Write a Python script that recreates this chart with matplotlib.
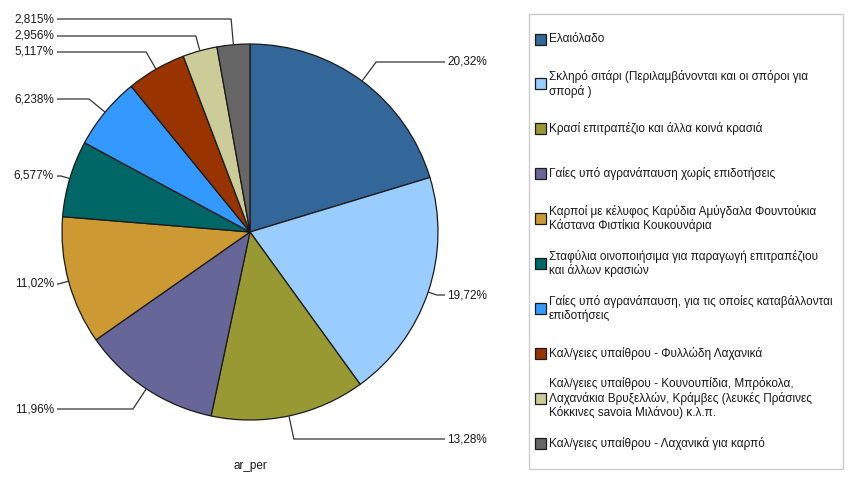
import matplotlib
matplotlib.use("Agg")
import matplotlib.pyplot as plt
from matplotlib.patches import Rectangle
import numpy as np

plt.rcParams['font.family'] = ['Liberation Sans', 'DejaVu Sans']

categories = [
    "Ελαιόλαδο",
    "Σκληρό σιτάρι (Περιλαμβάνονται και οι σπόροι για\nσπορά )",
    "Κρασί επιτραπέζιο και άλλα κοινά κρασιά",
    "Γαίες υπό αγρανάπαυση χωρίς επιδοτήσεις",
    "Καρποί με κέλυφος Καρύδια Αμύγδαλα Φουντούκια\nΚάστανα Φιστίκια Κουκουνάρια",
    "Σταφύλια οινοποιήσιμα για παραγωγή επιτραπέζιου\nκαι άλλων κρασιών",
    "Γαίες υπό αγρανάπαυση, για τις οποίες καταβάλλονται\nεπιδοτήσεις",
    "Καλ/γειες υπαίθρου - Φυλλώδη Λαχανικά",
    "Καλ/γειες υπαίθρου - Κουνουπίδια, Μπρόκολα,\nΛαχανάκια Βρυξελλών, Κράμβες (λευκές Πράσινες\nΚόκκινες savoia Μιλάνου) κ.λ.π.",
    "Καλ/γειες υπαίθρου - Λαχανικά για καρπό",
]
values = [20.32, 19.72, 13.28, 11.96, 11.02, 6.577, 6.238, 5.117, 2.956, 2.815]
colors = ["#336699", "#99CCFF", "#999933", "#666699", "#CC9933",
          "#006666", "#3399FF", "#993300", "#CCCC99", "#666666"]
series_name = "ar_per"

# layout (pixel rows of the label text)
label_y_px = [62, 295, 439, 409, 284, 176, 99, 52, 36, 19]

W, H = 864, 487
fig = plt.figure(figsize=(W / 100, H / 100), dpi=100)
ax = fig.add_axes([0, 0, 1, 1])

cx, cy, R = 250, H - 232, 188
wedges, _ = ax.pie(values, colors=colors, startangle=90, counterclock=False,
                   center=(cx, cy), radius=R,
                   wedgeprops=dict(edgecolor="#1a1a1a", linewidth=0.9))
ax.set_xlim(0, W)
ax.set_ylim(0, H)
ax.set_aspect("equal")
ax.set_axis_off()

line_col = "#333333"
for w, v, ly_px in zip(wedges, values, label_y_px):
    mid = np.deg2rad((w.theta1 + w.theta2) / 2)
    dx, dy = np.cos(mid), np.sin(mid)
    ex, ey = cx + R * dx, cy + R * dy
    ly = H - ly_px
    t = (ly - ey) / dy if abs(dy) > 1e-6 else 12
    t = float(np.clip(t, 6, 30))
    bx = ex + t * dx
    txt = f"{v:.4g}".replace(".", ",") + "%"
    if dx >= 0:
        x_end = 445
        ax.plot([ex, bx, x_end], [ey, ly, ly], color=line_col, lw=0.9,
                solid_capstyle="butt")
        ax.text(x_end + 2, ly, txt, ha="left", va="center", fontsize=8.5,
                color="#1a1a1a")
    else:
        x_end = 57
        ax.plot([ex, bx, x_end], [ey, ly, ly], color=line_col, lw=0.9,
                solid_capstyle="butt")
        ax.text(x_end - 3, ly, txt, ha="right", va="center", fontsize=8.5,
                color="#1a1a1a")

ax.text(cx, H - 466, series_name, ha="center", va="center", fontsize=8.5,
        color="#1a1a1a")

# legend box
lx0, ly0, lx1, ly1 = 529, 14, 843, 469
ax.add_patch(Rectangle((lx0, H - ly1), lx1 - lx0, ly1 - ly0, facecolor="white",
                       edgecolor="#cccccc", linewidth=1.0))
first_y, step = 39, 44.9
for i, (w, lab) in enumerate(zip(wedges, categories)):
    yc = H - (first_y + i * step)
    ax.add_patch(Rectangle((535, yc - 5.5), 11, 11, facecolor=w.get_facecolor(),
                           edgecolor="#1a1a1a", linewidth=0.9))
    ax.text(549, yc, lab, ha="left", va="center", fontsize=8.5,
            color="#1a1a1a", linespacing=1.12)

fig.savefig("out.png", dpi=100)
